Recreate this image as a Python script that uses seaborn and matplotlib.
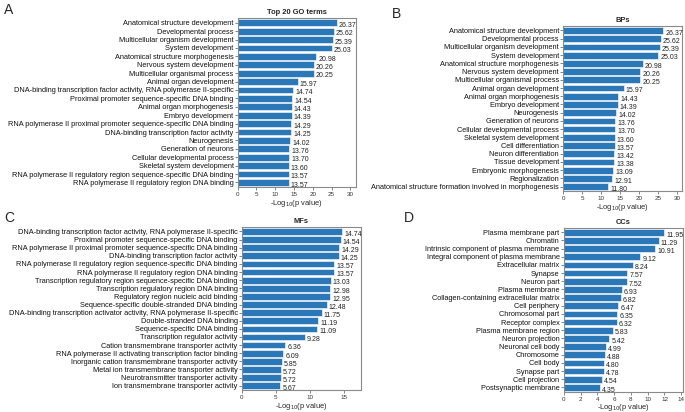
import matplotlib
matplotlib.use("Agg")
import matplotlib.pyplot as plt
import seaborn as sns
import pandas as pd

# Top 20 GO terms
top_terms = ["Anatomical structure development", "Developmental process",
             "Multicellular organism development", "System development",
             "Anatomical structure morphogenesis", "Nervous system development",
             "Multicellular organismal process", "Animal organ development",
             "DNA-binding transcription factor activity, RNA polymerase II-specific",
             "Proximal promoter sequence-specific DNA binding",
             "Animal organ morphogenesis", "Embryo development",
             "RNA polymerase II proximal promoter sequence-specific DNA binding",
             "DNA-binding transcription factor activity", "Neurogenesis",
             "Generation of neurons", "Cellular developmental process",
             "Skeletal system development",
             "RNA polymerase II regulatory region sequence-specific DNA binding",
             "RNA polymerase II regulatory region DNA binding"]
top_vals = [26.37, 25.62, 25.39, 25.03, 20.98, 20.26, 20.25, 15.97, 14.74, 14.54,
            14.43, 14.39, 14.29, 14.25, 14.02, 13.76, 13.70, 13.60, 13.57, 13.57]

# BPs
bp_terms = ["Anatomical structure development", "Developmental process",
            "Multicellular organism development", "System development",
            "Anatomical structure morphogenesis", "Nervous system development",
            "Multicellular organismal process", "Animal organ development",
            "Animal organ morphogenesis", "Embryo development", "Neurogenesis",
            "Generation of neurons", "Cellular developmental process",
            "Skeletal system development", "Cell differentiation",
            "Neuron differentiation", "Tissue development",
            "Embryonic morphogenesis", "Regionalization",
            "Anatomical structure formation involved in morphogenesis"]
bp_vals = [26.37, 25.62, 25.39, 25.03, 20.98, 20.26, 20.25, 15.97, 14.43, 14.39,
           14.02, 13.76, 13.70, 13.60, 13.57, 13.42, 13.38, 13.09, 12.91, 11.80]

# MFs
mf_terms = ["DNA-binding transcription factor activity, RNA polymerase II-specific",
            "Proximal promoter sequence-specific DNA binding",
            "RNA polymerase II proximal promoter sequence-specific DNA binding",
            "DNA-binding transcription factor activity",
            "RNA polymerase II regulatory region sequence-specific DNA binding",
            "RNA polymerase II regulatory region DNA binding",
            "Transcription regulatory region sequence-specific DNA binding",
            "Transcription regulatory region DNA binding",
            "Regulatory region nucleic acid binding",
            "Sequence-specific double-stranded DNA binding",
            "DNA-binding transcription activator activity, RNA polymerase II-specific",
            "Double-stranded DNA binding", "Sequence-specific DNA binding",
            "Transcription regulator activity",
            "Cation transmembrane transporter activity",
            "RNA polymerase II activating transcription factor binding",
            "Inorganic cation transmembrane transporter activity",
            "Metal ion transmembrane transporter activity",
            "Neurotransmitter transporter activity",
            "Ion transmembrane transporter activity"]
mf_vals = [14.74, 14.54, 14.29, 14.25, 13.57, 13.57, 13.03, 12.98, 12.95, 12.48,
           11.75, 11.19, 11.09, 9.28, 6.36, 6.09, 5.85, 5.72, 5.72, 5.67]

# CCs
cc_terms = ["Plasma membrane part", "Chromatin",
            "Intrinsic component of plasma membrane",
            "Integral component of plasma membrane", "Extracellular matrix",
            "Synapse", "Neuron part", "Plasma membrane",
            "Collagen-containing extracellular matrix", "Cell periphery",
            "Chromosomal part", "Receptor complex", "Plasma membrane region",
            "Neuron projection", "Neuronal cell body", "Chromosome", "Cell body",
            "Synapse part", "Cell projection", "Postsynaptic membrane"]
cc_vals = [11.95, 11.29, 10.91, 9.12, 8.24, 7.57, 7.52, 6.93, 6.82, 6.47,
           6.35, 6.32, 5.83, 5.42, 4.99, 4.88, 4.80, 4.78, 4.54, 4.35]

bar_color = "#2b78b8"

sns.set_style("ticks")
plt.rcParams["font.family"] = ["Liberation Sans", "DejaVu Sans"]

fig = plt.figure(figsize=(6.85, 4.12), dpi=100)

panels = [
    ("A", "Top 20 GO terms", top_terms, top_vals, [0.347, 0.546, 0.172, 0.41], 31.4, [0, 5, 10, 15, 20, 25, 30], (0.006, 0.975)),
    ("B", "BPs", bp_terms, bp_vals, [0.822, 0.536, 0.174, 0.401], 31.3, [0, 5, 10, 15, 20, 25, 30], (0.572, 0.965)),
    ("C", "MFs", mf_terms, mf_vals, [0.353, 0.053, 0.174, 0.396], 17.5, [0, 5, 10, 15], (0.006, 0.47)),
    ("D", "CCs", cc_terms, cc_vals, [0.823, 0.049, 0.174, 0.398], 14.2, [0, 2, 4, 6, 8, 10, 12, 14], (0.59, 0.47)),
]

for letter, title, terms, vals, pos, xmax, ticks, lpos in panels:
    ax = fig.add_axes(pos)
    df = pd.DataFrame({"term": terms, "value": vals})
    sns.barplot(data=df, x="value", y="term", orient="h", color=bar_color,
                saturation=1, width=0.82, edgecolor="white", linewidth=0.4, ax=ax)
    for i, v in enumerate(vals):
        ax.annotate(f"{v:.2f}", (v, i), xytext=(1.5, -2), textcoords="offset points",
                    fontsize=5, va="center", ha="left", color="#222222")
    ax.set_xlim(0, xmax)
    ax.set_ylim(len(terms) - 0.45, -0.55)
    ax.set_xticks(ticks)
    ax.tick_params(axis="x", labelsize=4.5, length=2, width=0.5, pad=1.5, colors="#555555", labelcolor="#333333")
    ax.tick_params(axis="y", labelsize=5.3, length=2, width=0.5, pad=1, colors="#555555", labelcolor="#111111")
    ax.set_ylabel("")
    ax.set_xlabel("-Log$_{10}$(p value)", fontsize=5.4, labelpad=0.5)
    for s in ax.spines.values():
        s.set_visible(True)
        s.set_color("#8a8a8a")
        s.set_linewidth(0.8)
    ax.set_title(title, fontsize=5.4, fontweight="bold", pad=3)
    fig.text(lpos[0], lpos[1], letter, fontsize=10, ha="left", va="center")

fig.savefig("out.png", dpi=100)
